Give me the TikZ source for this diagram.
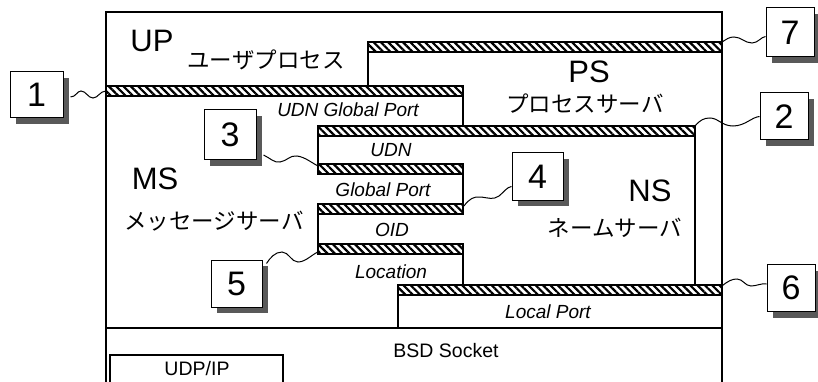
\documentclass[tikz,border=0pt]{standalone}
\usepackage{fontspec}
\setmainfont{Liberation Sans}
\newfontfamily\jp{Noto Sans CJK JP}
\usetikzlibrary{patterns.meta,shadows}

\tikzset{
 frame/.style={line width=1.1pt},
 hatchbar/.style={draw, line width=1.2pt, pattern={Lines[angle=-45,distance=5.2pt,line width=2.2pt]}},
 numbox/.style={draw, fill=white, line width=1pt, inner sep=0pt,
   font=\fontsize{34}{34}\selectfont,
   drop shadow={shadow xshift=6pt, shadow yshift=-6pt, fill=black!65, opacity=1}},
 wire/.style={line width=1pt},
 big/.style={font=\fontsize{31}{31}\selectfont},
 jtext/.style={font=\jp\fontsize{22.5}{22.5}\selectfont},
 ilabel/.style={font=\itshape\fontsize{19}{19}\selectfont},
 rlabel/.style={font=\fontsize{19.5}{19.5}\selectfont},
}

\begin{document}
\begin{tikzpicture}[x=1pt,y=-1pt]
\useasboundingbox (0,0) rectangle (818,382);

% outer frame
\draw[frame] (106,390) -- (106,12) -- (722,12) -- (722,390);

% hatched bars
\draw[hatchbar] (368,42) rectangle (722,52);
\draw[hatchbar] (106,86) rectangle (463,96);
\draw[hatchbar] (318,126) rectangle (695,136);
\draw[hatchbar] (318,164) rectangle (463,174);
\draw[hatchbar] (318,204) rectangle (463,214);
\draw[hatchbar] (318,244) rectangle (463,254);
\draw[hatchbar] (398,285) rectangle (722,295);

% region edges
\draw[frame] (368,52) -- (368,86);
\draw[frame] (463,96) -- (463,126);
\draw[frame] (318,136) -- (318,164);
\draw[frame] (463,174) -- (463,204);
\draw[frame] (318,214) -- (318,244);
\draw[frame] (463,254) -- (463,285);
\draw[frame] (695,136) -- (695,285);
\draw[frame] (398,295) -- (398,328);
\draw[frame] (106,328) -- (722,328);
\draw[frame] (110,390) -- (110,355) -- (283,355) -- (283,390);

% wire end coordinates on bars
\coordinate (b1) at (106,91);
\coordinate (b3) at (318,166);
\coordinate (b4) at (464,206);
\coordinate (b5) at (320,251);
\coordinate (b7) at (722,42);
\coordinate (b2) at (695,126);
\coordinate (b6) at (722,286);

% labels
\node[big] (tUP) at (152,41) {UP};
\node[jtext] (jUP) at (266,60) {ユーザプロセス};
\node[big] (tPS) at (589,72) {PS};
\node[jtext] (jPS) at (585,104) {プロセスサーバ};
\node[big] (tMS) at (155,179) {MS};
\node[jtext] (jMS) at (214,221) {メッセージサーバ};
\node[big] (tNS) at (650,191) {NS};
\node[jtext] (jNS) at (615,228) {ネームサーバ};

\node[ilabel] (lUGP) at (348,110) {UDN Global Port};
\node[ilabel] (lUDN) at (391,150) {UDN};
\node[ilabel] (lGP) at (383,190) {Global Port};
\node[ilabel] (lOID) at (392,230) {OID};
\node[ilabel] (lLoc) at (391,272) {Location};
\node[ilabel] (lLP) at (548,312) {Local Port};
\node[rlabel] (lBSD) at (446,351) {BSD Socket};
\node[rlabel] (lUDP) at (197,369) {UDP/IP};

% number boxes
\node[numbox, minimum width=53pt, minimum height=46pt] (n1) at (36.5,95) {1};
\node[numbox, minimum width=52pt, minimum height=50pt] (n3) at (230,135) {3};
\node[numbox, minimum width=51pt, minimum height=47pt] (n4) at (537.5,176.5) {4};
\node[numbox, minimum width=51pt, minimum height=47pt] (n5) at (236.5,283.5) {5};
\node[numbox, minimum width=48pt, minimum height=49pt] (n7) at (790,32.5) {7};
\node[numbox, minimum width=48pt, minimum height=47pt] (n2) at (784,116.5) {2};
\node[numbox, minimum width=48pt, minimum height=47pt] (n6) at (791,288) {6};

% wires
\draw[wire] ([xshift=7pt,yshift=-2pt]n1.east) .. controls (76,97) and (77,91) .. (81,91)
  .. controls (86,91) and (88,98) .. (93,98) .. controls (98,98) and (100,91) .. (b1);
\draw[wire] ([xshift=7pt,yshift=-20pt]n3.east) .. controls (270,158) and (274,163) .. (280,162)
  .. controls (287,161) and (290,155) .. (297,156) .. controls (305,157) and (312,163) .. (b3);
\draw[wire] (b4) .. controls (469,199) and (474,196) .. (481,197)
  .. controls (489,198) and (493,200) .. (499,196) .. controls (504,192) and (507,187) .. ([yshift=-10pt]n4.west);
\draw[wire] ([xshift=4pt,yshift=20pt]n5.east) .. controls (270,258) and (275,252) .. (282,252)
  .. controls (289,252) and (291,262) .. (298,262) .. controls (306,262) and (312,254) .. (b5);
\draw[wire] (b7) .. controls (727,39) and (729,37) .. (734,37)
  .. controls (741,37) and (745,43) .. (752,43) .. controls (758,43) and (761,37) .. ([yshift=-4pt]n7.west);
\draw[wire] (b2) .. controls (700,120) and (704,118) .. (710,118)
  .. controls (718,118) and (722,126) .. (733,126) .. controls (745,126) and (752,117) .. (n2.west);
\draw[wire] (b6) .. controls (728,281) and (732,279) .. (737,279)
  .. controls (743,279) and (745,286) .. (751,286) .. controls (757,286) and (761,283) .. ([yshift=4pt]n6.west);
\end{tikzpicture}
\end{document}
